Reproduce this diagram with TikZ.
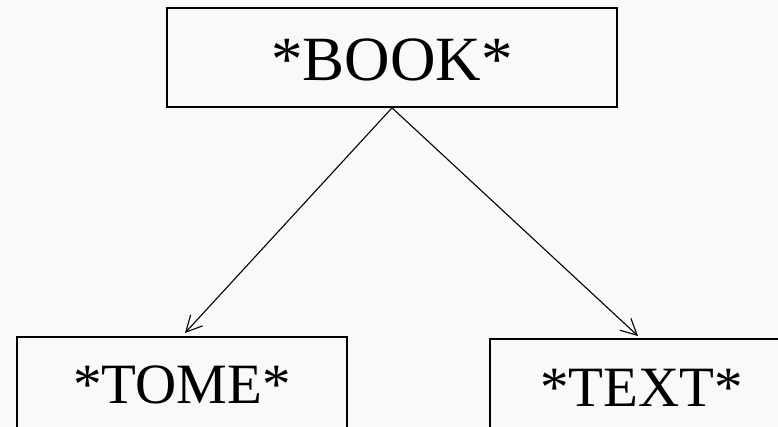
\documentclass[tikz,border=0pt]{standalone}
\usepackage{fontspec}
\setmainfont{Liberation Serif}
\usetikzlibrary{arrows.meta}
\definecolor{bgcol}{RGB}{249,249,249}
\tikzset{
  boxnode/.style={draw=black, line width=1.7pt, inner sep=0pt, rectangle},
  link/.style={draw=black, line width=1.1pt, -{Straight Barb[angle=54:18pt, line width=1.1pt]}}
}
\begin{document}
\begin{tikzpicture}[x=1pt, y=-1pt]
  \clip (0,0) rectangle (778,427);
  \fill[bgcol] (0,0) rectangle (778,427);
  \node[boxnode, minimum width=450pt, minimum height=99pt, text height=50pt, text depth=3pt,
        font=\fontsize{63pt}{70pt}\selectfont] (book) at (392,57.5) {*BOOK*};
  \node[boxnode, minimum width=330pt, minimum height=120pt, text height=40pt, text depth=28pt,
        font=\fontsize{57pt}{64pt}\selectfont] (tome) at (182,397) {*TOME*};
  \node[boxnode, minimum width=303pt, minimum height=120pt, text height=40pt, text depth=26pt,
        font=\fontsize{57pt}{64pt}\selectfont] (text) at (641.5,399) {*TEXT*};
  \coordinate (tomeend) at (185,333);
  \coordinate (textend) at (638,336);
  \draw[link] (book.south) -- (tomeend);
  \draw[link] (book.south) -- (textend);
\end{tikzpicture}
\end{document}
